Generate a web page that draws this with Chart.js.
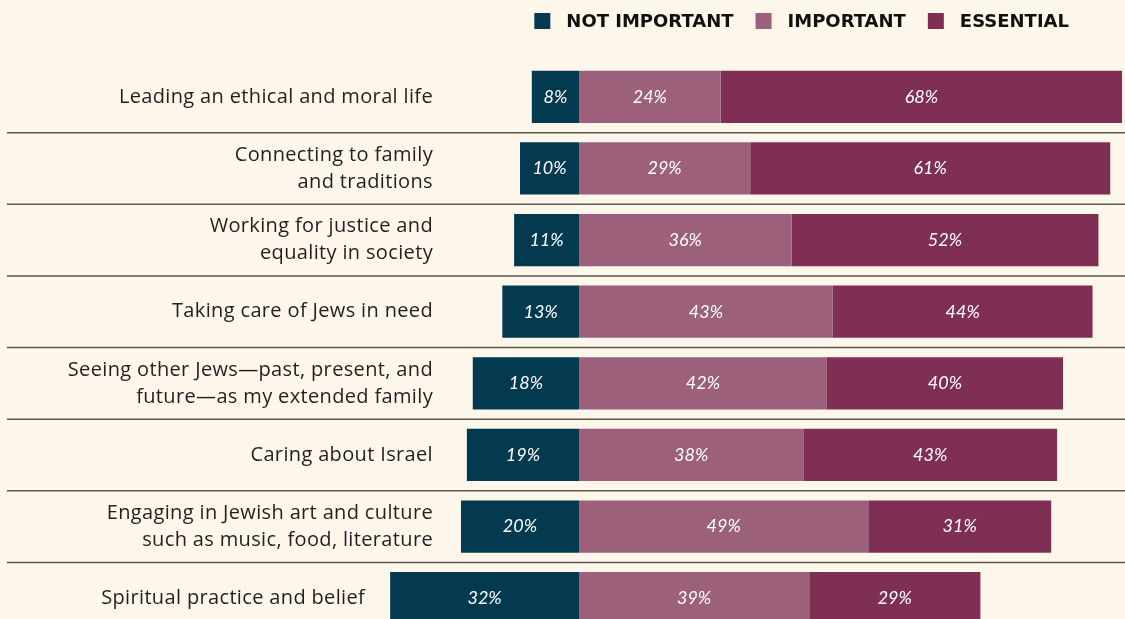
<!DOCTYPE html>
<html>
<head>
<meta charset="utf-8">
<script src="https://cdn.jsdelivr.net/npm/chart.js@4"></script>
<style>
  html, body { margin: 0; padding: 0; background: #fdf6eb; overflow: hidden; }
  canvas { display: block; }
</style>
</head>
<body>
<canvas id="grafico" width="1125" height="634"></canvas>
<script>
// categories (multi-line labels as arrays)
const categorias = [
    ["Leading an ethical and moral life"],
    ["Connecting to family", "and traditions"],
    ["Working for justice and", "equality in society"],
    ["Taking care of Jews in need"],
    ["Seeing other Jews\u2014past, present, and", "future\u2014as my extended family"],
    ["Caring about Israel"],
    ["Engaging in Jewish art and culture", "such as music, food, literature"],
    ["Spiritual practice and belief"]
];

const naoImportante = [8, 10, 11, 13, 18, 19, 20, 32];
const importante = [24, 29, 36, 43, 42, 38, 49, 39];
const essencial = [68, 61, 52, 44, 40, 43, 31, 29];

const legendas = ["NOT IMPORTANT", "IMPORTANT", "ESSENTIAL"];
const cores = ["#043a4f", "#9c607b", "#7e2f53"];

const fonteBarra = "italic 18px Lato, 'Open Sans', sans-serif";
const fonteCategoria = "20px 'Open Sans', sans-serif";
const fonteLegenda = "bold 18px 'DejaVu Sans', sans-serif";

// plugin: separators, category labels, values inside bars, legend
const desenhos = {
    id: "desenhos",
    beforeDatasetsDraw(chart) {
        const ctx = chart.ctx;
        const y = chart.scales.y;
        ctx.save();
        ctx.strokeStyle = "#5d584c";
        ctx.lineWidth = 1.5;
        for (let i = 0; i < categorias.length - 1; i++) {
            const yy = (y.getPixelForValue(i) + y.getPixelForValue(i + 1)) / 2;
            ctx.beginPath();
            ctx.moveTo(7, yy);
            ctx.lineTo(1125, yy);
            ctx.stroke();
        }
        ctx.restore();
    },
    afterDatasetsDraw(chart) {
        const ctx = chart.ctx;
        const y = chart.scales.y;
        const barrasEsq = chart.getDatasetMeta(0).data;
        ctx.save();

        // category labels
        ctx.fillStyle = "#231f20";
        ctx.font = fonteCategoria;
        ctx.letterSpacing = "0.35px";
        ctx.textAlign = "right";
        ctx.textBaseline = "middle";
        categorias.forEach((linhas, i) => {
            const yc = y.getPixelForValue(i);
            const alt = 27;
            const y0 = yc - (linhas.length - 1) * alt / 2;
            const xr = Math.min(433, barrasEsq[i].x - 25);
            linhas.forEach((t, j) => ctx.fillText(t, xr, y0 + j * alt));
        });
        ctx.letterSpacing = "0px";

        // values inside the bars
        ctx.fillStyle = "#ffffff";
        ctx.font = fonteBarra;
        ctx.textAlign = "center";
        chart.data.datasets.forEach((ds, di) => {
            chart.getDatasetMeta(di).data.forEach((bar, i) => {
                const x = (bar.x + bar.base) / 2;
                ctx.fillText(Math.abs(ds.data[i]) + "%", x, bar.y);
            });
        });

        // legend, right aligned
        ctx.font = fonteLegenda;
        ctx.textAlign = "left";
        let larguras = legendas.map(t => ctx.measureText(t).width);
        let x = 1069;
        const posicoes = [];
        for (let i = legendas.length - 1; i >= 0; i--) {
            x -= larguras[i];
            posicoes[i] = x;
            x -= 16 + 16 + 22;
        }
        legendas.forEach((t, i) => {
            const xt = posicoes[i];
            ctx.fillStyle = cores[i];
            ctx.fillRect(xt - 32, 13, 16, 16);
            ctx.fillStyle = "#111111";
            ctx.fillText(t, xt, 22);
        });
        ctx.restore();
    }
};

new Chart(document.getElementById("grafico"), {
    type: "bar",
    data: {
        labels: categorias,
        datasets: [
            { label: legendas[0], data: naoImportante.map(v => -v), backgroundColor: cores[0] },
            { label: legendas[1], data: importante, backgroundColor: cores[1] },
            { label: legendas[2], data: essencial, backgroundColor: cores[2] }
        ]
    },
    options: {
        indexAxis: "y",
        responsive: false,
        animation: false,
        layout: { padding: { top: 61, bottom: 0, left: 0, right: 0 } },
        datasets: {
            bar: { barPercentage: 0.73, categoryPercentage: 1, borderWidth: 0 }
        },
        scales: {
            x: { stacked: true, min: -98.1, max: 92.5, display: false },
            y: { stacked: true, display: false }
        },
        plugins: {
            legend: { display: false },
            tooltip: { enabled: false }
        }
    },
    plugins: [desenhos]
});
</script>
</body>
</html>
